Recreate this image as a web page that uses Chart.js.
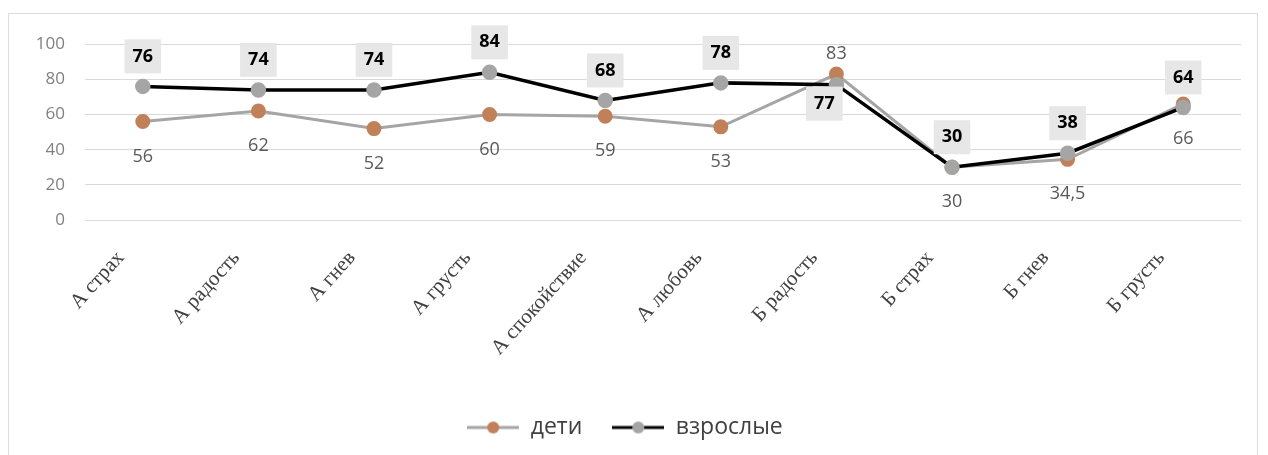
<!DOCTYPE html>
<html lang="ru">
<head>
  <meta charset="UTF-8">
  <title>дети / взрослые</title>
  <script src="https://cdn.jsdelivr.net/npm/chart.js"></script>
  <style>
    body { margin: 0; background: #fff; }
    .frame {
      position: absolute; left: 8px; top: 13px; width: 1248px; height: 445px;
      border: 1px solid #dcdcdc; border-bottom: none;
    }
    canvas { display: block; }
  </style>
</head>
<body>
  <div class="frame"><canvas id="chart" width="1248" height="441"></canvas></div>
  <script>
    const categories = ['А страх', 'А радость', 'А гнев', 'А грусть', 'А спокойствие',
                        'А любовь', 'Б радость', 'Б страх', 'Б гнев', 'Б грусть'];
    const kids = [56, 62, 52, 60, 59, 53, 83, 30, 34.5, 66];
    const adults = [76, 74, 74, 84, 68, 78, 77, 30, 38, 64];
    const yTicks = [0, 20, 40, 60, 80, 100];

    // where each label sits: -1 above the point, 1 below
    const kidsSide = [1, 1, 1, 1, 1, 1, -1, 1, 1, 1];
    const adultsSide = [-1, -1, -1, -1, -1, -1, 1, -1, -1, -1];

    const fmt = v => String(v).replace('.', ',');

    function legendIcon(lineColor, dotColor) {
      const c = document.createElement('canvas');
      c.width = 52; c.height = 16;
      const g = c.getContext('2d');
      g.strokeStyle = lineColor; g.lineWidth = 3;
      g.beginPath(); g.moveTo(0, 8); g.lineTo(52, 8); g.stroke();
      g.fillStyle = dotColor;
      g.beginPath(); g.arc(26, 8, 6, 0, Math.PI * 2); g.fill();
      return c;
    }
    const icons = [legendIcon('#a5a5a5', '#c0815a'), legendIcon('#000000', '#a5a5a5')];

    const labelPlugin = {
      id: 'pointLabels',
      afterDatasetsDraw(chart) {
        const ctx = chart.ctx;
        ctx.save();
        ctx.textAlign = 'center';
        ctx.textBaseline = 'middle';
        chart.data.datasets.forEach((ds, di) => {
          const meta = chart.getDatasetMeta(di);
          meta.data.forEach((pt, i) => {
            const txt = fmt(ds.data[i]);
            if (di === 1) {
              const side = adultsSide[i];
              const y = pt.y + (side > 0 ? 19 : -30);
              const x = side > 0 ? pt.x - 12 : pt.x;
              ctx.font = 'bold 18px "Open Sans"';
              const w = ctx.measureText(txt).width + 16;
              ctx.fillStyle = '#e7e7e7';
              ctx.fillRect(x - w / 2, y - 17, w, 34);
              ctx.fillStyle = '#000';
              ctx.fillText(txt, x, y);
            } else {
              const side = kidsSide[i];
              const y = pt.y + side * (side > 0 ? 35 : 20);
              ctx.font = '18px "Open Sans"';
              ctx.fillStyle = '#595959';
              ctx.fillText(txt, pt.x, y);
            }
          });
        });
        ctx.restore();
      }
    };

    new Chart(document.getElementById('chart'), {
      type: 'line',
      data: {
        labels: categories,
        datasets: [
          {
            label: 'дети', data: kids, order: 2,
            borderColor: '#a5a5a5', borderWidth: 3,
            pointBackgroundColor: '#c0815a', pointBorderColor: '#c0815a',
            pointRadius: 6, tension: 0
          },
          {
            label: 'взрослые', data: adults, order: 1,
            borderColor: '#000000', borderWidth: 3.5,
            pointBackgroundColor: '#a5a5a5', pointBorderColor: '#a5a5a5',
            pointRadius: 6, tension: 0
          }
        ]
      },
      options: {
        responsive: false,
        animation: false,
        layout: { padding: { top: 25, right: 16, bottom: 6, left: 0 } },
        scales: {
          x: {
            offset: true,
            grid: { display: false },
            border: { display: false },
            ticks: {
              autoSkip: false, minRotation: 48, maxRotation: 48,
              color: '#404040', padding: 18, labelOffset: -22,
              font: { family: '"Liberation Serif"', size: 21 }
            },
            afterFit(scale) { scale.height = 166; }
          },
          y: {
            min: 0, max: 100,
            afterBuildTicks(scale) { scale.ticks = yTicks.map(v => ({ value: v })); },
            grid: { color: '#d9d9d9', lineWidth: 1, drawTicks: false },
            border: { display: false },
            ticks: {
              color: '#808080', padding: 20,
              font: { family: '"Open Sans"', size: 17 }
            },
            afterFit(scale) { scale.width = 76; }
          }
        },
        plugins: {
          tooltip: { enabled: false },
          legend: {
            position: 'bottom',
            labels: {
              usePointStyle: true,
              pointStyleWidth: 52,
              boxHeight: 16,
              padding: 30,
              color: '#404040',
              font: { family: '"Open Sans"', size: 23 },
              generateLabels(chart) {
                return chart.data.datasets.map((ds, i) => ({
                  text: ds.label, pointStyle: icons[i], datasetIndex: i,
                  fontColor: '#404040', lineWidth: 0, strokeStyle: 'transparent', fillStyle: 'transparent'
                }));
              }
            }
          }
        }
      },
      plugins: [labelPlugin]
    });
  </script>
</body>
</html>
